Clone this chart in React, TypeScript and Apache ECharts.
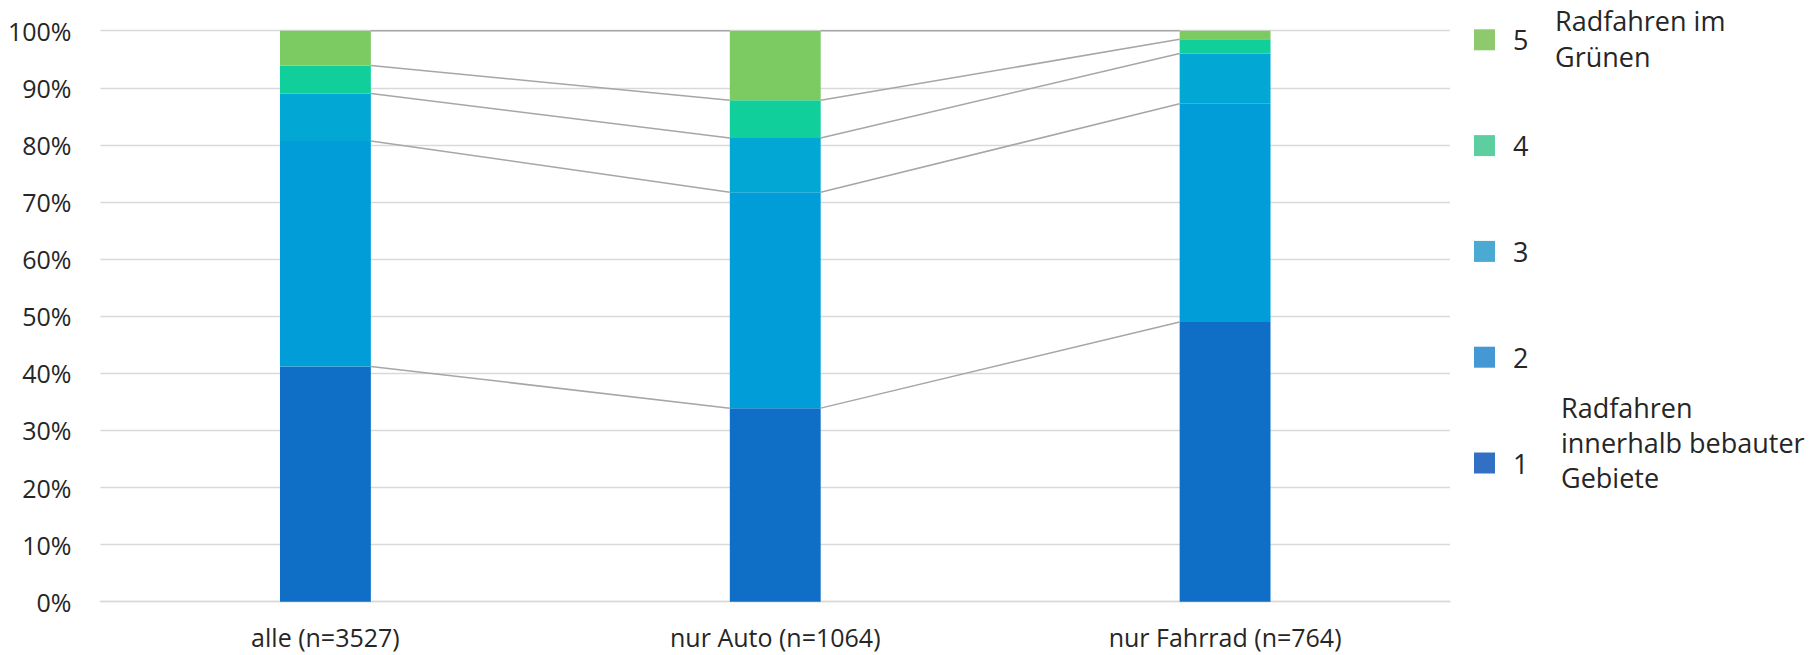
import React, { useEffect, useRef } from "react";
import * as echarts from "echarts";

const categories = ["alle (n=3527)", "nur Auto (n=1064)", "nur Fahrrad (n=764)"];
const seriesNames = ["1", "2", "3", "4", "5"];
const values1 = [41.2, 33.9, 49.0];
const values2 = [39.5, 37.8, 38.2];
const values3 = [8.3, 9.5, 8.8];
const values4 = [4.9, 6.6, 2.5];
const values5 = [6.1, 12.2, 1.5];
const yTicks = { min: 0, max: 100, interval: 10 };
const legendTopLabel = "Radfahren im\nGrünen";
const legendBottomLabel = "Radfahren\ninnerhalb bebauter\nGebiete";

const barColors = ["#0F6FC6", "#009DD9", "#02A8D3", "#10CF9B", "#7CCA62"];
const legendColors = ["#3270C4", "#4499D5", "#4AAAD2", "#5DCEA0", "#8FC96E"];
const FONT = "'Open Sans', 'Noto Sans', sans-serif";
const BAR_RATIO = 0.202;

export default function App() {
  const ref = useRef<HTMLDivElement>(null);

  useEffect(() => {
    document.body.style.margin = "0";
    if (!ref.current) return;
    const chart = echarts.init(ref.current, undefined, { renderer: "svg" });
    const allValues = [values1, values2, values3, values4, values5];

    const cums: number[][] = categories.map((_, ci) => {
      let s = 0;
      return allValues.map((arr) => (s += arr[ci]));
    });
    const lineData: number[][] = [];
    for (let ci = 0; ci < categories.length - 1; ci++) {
      for (let k = 0; k < allValues.length; k++) {
        lineData.push([ci, cums[ci][k], cums[ci + 1][k]]);
      }
    }

    const barSeries = allValues.map((arr, i) => ({
      type: "bar",
      name: seriesNames[i],
      stack: "total",
      data: arr,
      barWidth: BAR_RATIO * 100 + "%",
      itemStyle: { color: barColors[i] },
      z: 3,
    }));

    chart.setOption({
      animation: false,
      grid: { left: 100.5, right: 362, top: 30.7, bottom: 53.3, containLabel: false },
      xAxis: {
        type: "category",
        data: categories,
        axisLine: { show: true, lineStyle: { color: "#D9D9D9", width: 1.3 } },
        axisTick: { show: false },
        axisLabel: { color: "#262626", fontFamily: FONT, fontSize: 25, lineHeight: 25, margin: 23 },
      },
      yAxis: {
        type: "value",
        min: yTicks.min,
        max: yTicks.max,
        interval: yTicks.interval,
        axisLine: { show: false },
        axisTick: { show: false },
        splitLine: { lineStyle: { color: "#D9D9D9", width: 1.3 } },
        axisLabel: {
          color: "#262626",
          fontFamily: FONT,
          fontSize: 25,
          margin: 29,
          formatter: "{value}%",
        },
      },
      legend: {
        orient: "vertical",
        left: 1469,
        top: 21.3,
        itemWidth: 21,
        itemHeight: 21,
        itemGap: 78.8,
        icon: "rect",
        textStyle: { fontFamily: FONT, fontSize: 27, color: "#262626", lineHeight: 26, padding: [0, 0, 0, 13] },
        data: seriesNames
          .map((n, i) => ({ name: n, itemStyle: { color: legendColors[i] } }))
          .reverse(),
      },
      graphic: [
        {
          type: "text",
          left: 1555,
          top: 2,
          style: { text: legendTopLabel, fontFamily: FONT, fontSize: 27, lineHeight: 36, fill: "#262626" },
        },
        {
          type: "text",
          left: 1561,
          top: 390,
          style: { text: legendBottomLabel, fontFamily: FONT, fontSize: 27, lineHeight: 35, fill: "#262626" },
        },
      ],
      series: [
        ...barSeries,
        {
          type: "custom",
          name: "seriesLines",
          data: lineData,
          encode: { x: 0, y: [1, 2] },
          z: 4,
          silent: true,
          renderItem: (params: any, api: any) => {
            const ci = api.value(0);
            const a = api.value(1);
            const b = api.value(2);
            const p1 = api.coord([ci, a]);
            const p2 = api.coord([ci + 1, b]);
            const bw = api.size([1, 0])[0] * BAR_RATIO;
            return {
              type: "line",
              shape: { x1: p1[0] + bw / 2, y1: p1[1], x2: p2[0] - bw / 2, y2: p2[1] },
              style: { stroke: "#A6A6A6", lineWidth: 1.5 },
            };
          },
        },
      ],
    });
    return () => chart.dispose();
  }, []);

  return <div ref={ref} style={{ width: 1812, height: 655 }} />;
}
